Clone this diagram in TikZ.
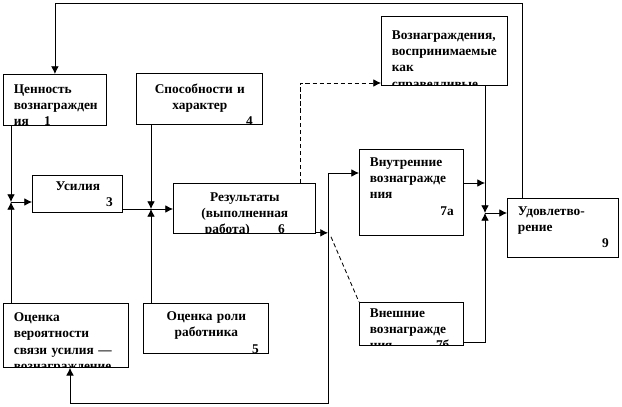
\documentclass[tikz,border=0pt]{standalone}
\usepackage{fontspec}
\setmainfont{Liberation Serif}
\usetikzlibrary{calc,arrows.meta}

\tikzset{
	blk/.style={draw, line width=0.6pt, anchor=north west, inner sep=0pt},
	txt/.style={anchor=north west, inner sep=0pt, minimum width=0pt, minimum height=0pt,
		font=\bfseries\fontsize{9.5}{11.5}\selectfont},
	ln/.style={line width=0.6pt},
	arw/.tip={Latex[length=5.5pt,width=5.5pt]},
	arr/.style={ln, -arw},
	dsh/.style={ln, dash pattern=on 3pt off 2pt},
}
% name, x, y, w, h, xpad, ypad, align, text (all in pixels of the picture)
\newcommand\blk[9]{%
	\pgfmathsetmacro\blkw{(#4-2*#6)*0.025}%
	\node[blk, minimum width=#4*0.025cm, minimum height=#5*0.025cm,
		path picture={\node[txt, align=#8, text width=\blkw cm] (#1t)
			at ($(path picture bounding box.north west)+(#6,#7)$) {#9};}]
		(#1) at (#2,#3) {};}
\newcommand\rnum[1]{\hbox to \hsize{\hfil #1}}

\begin{document}
\begin{tikzpicture}[x=0.025cm, y=-0.025cm]
			%%%%% START %%%%%
			\useasboundingbox (0,0) rectangle (622,406);
			
			\blk{b1}{3}{74}{103}{51}{10}{10}{left}{Ценность\\вознагражден\\ия\hspace{11pt}1}
			\blk{b4}{136}{73}{126}{51}{10}{10}{center}{Способности и\\характер\\\rnum{4}}
			\blk{b5w}{381}{16}{126}{69}{10}{14}{left}{Вознаграждения,\\воспринимаемые\\как\\справедливые}
			\blk{b3}{32}{175}{90}{37}{10}{6}{center}{Усилия\\\rnum{3}}
			\blk{b6}{173}{183}{142}{50}{10}{9}{center}{Результаты\\(выполненная\\работа)\hspace{20pt}6}
			\blk{b7a}{359}{149}{104}{86}{10}{8}{left}{Внутренние\\вознагражде\\ния\\\rnum{7а}}
			\blk{b9}{507}{198}{111}{59}{10}{8}{left}{Удовлетво-\\рение\\\rnum{9}}
			\blk{b7b}{359}{302}{104}{43}{10}{6}{left}{Внешние\\вознагражде\\ния\hspace{31pt}7б}
			\blk{b2}{3}{303}{125}{64}{10}{9}{left}{Оценка\\вероятности\\связи усилия —\\вознаграждение}
			\blk{b5}{143}{303}{125}{50}{10}{8}{center}{Оценка роли\\работника\\\rnum{5}}
			
			\coordinate (j1) at (11,202);
			\coordinate (j2) at (151,209);
			\coordinate (j3) at (485,213);
			\coordinate (bt) at (328,173);
			\coordinate (bb) at (328,403);
			\coordinate (tp) at (522,3);
			\coordinate (o6) at ($(b6.south east)+(0,-1)$);
			\coordinate (o7) at ($(b7a.north east)+(0,34)$);
			\coordinate (d5) at ($(b5w.north west)+(0,67)$);
			
			% left junction
			\draw[arr] ($(b1.south west)+(8,0)$) -- (j1);
			\draw[arr] ($(b2.north west)+(8,0)$) -- (j1);
			\draw[arr] (j1) -- (j1 -| b3.west);
			
			% middle junction
			\draw[ln] (j2 -| b3.east) -- (j2);
			\draw[arr] ($(b4.south west)+(15,0)$) -- (j2);
			\draw[arr] ($(b5.north west)+(8,0)$) -- (j2);
			\draw[arr] (j2) -- (j2 -| b6.west);
			
			% results to rewards
			\draw[arr] (o6) -- (o6 -| bt);
			\draw[ln, arw-arw] (bt -| b7a.west) -- (bt) -- (bb) -| ($(b2.south west)+(67,0)$);
			\draw[dsh, -arw] ($(b6.north west)+(127,0)$) |- (d5);
			\draw[dsh] ($(o6 -| bt)+(3,4)$) -- (b7b.north west);
			
			% right junction
			\draw[arr] (o7) -- (o7 -| j3);
			\draw[arr] (b5w.south -| j3) -- (j3);
			\draw[arr] ($(b7b.south east)+(0,-3)$) -| (j3);
			\draw[arr] (j3) -- (j3 -| b9.west);
			
			% feedback
			\draw[arr] (b9.north -| tp) -- (tp) -| (b1.north);
			
			%%%%% END %%%%%
\end{tikzpicture}
\end{document}
